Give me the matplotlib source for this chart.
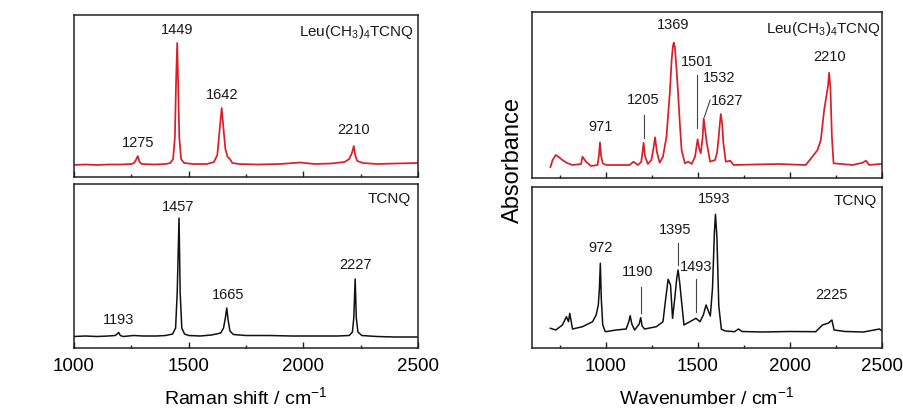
import matplotlib
matplotlib.use('Agg')
import matplotlib.pyplot as plt
from matplotlib.ticker import MultipleLocator

plt.rcParams['font.family'] = ['Liberation Sans', 'DejaVu Sans']
plt.rcParams['mathtext.fontset'] = 'custom'
plt.rcParams['mathtext.rm'] = 'Liberation Sans'
plt.rcParams['mathtext.it'] = 'Liberation Sans:italic'
plt.rcParams['mathtext.default'] = 'regular'

# ---------------- data ----------------
raman_leu_x = [1000, 1050, 1100, 1150, 1200, 1250, 1262, 1270, 1278, 1286, 1295, 1350, 1400, 1420,
               1432, 1440, 1445, 1450, 1454, 1459, 1467, 1480, 1520, 1580, 1610, 1625, 1634, 1644,
               1652, 1660, 1670, 1680, 1690, 1720, 1800, 1900, 1985, 2050, 2120, 2180, 2200, 2212,
               2220, 2226, 2235, 2260, 2320, 2400, 2500]
raman_leu_y = [12, 12.5, 12, 12.5, 12.5, 13, 14, 17, 21, 15, 13, 12.5, 13, 14,
               18, 40, 95, 134, 95, 40, 18, 14, 13, 13, 15, 22, 45, 69,
               48, 28, 20, 18, 14, 13, 12.5, 13, 14.5, 13, 13.5, 15, 18, 24,
               31, 22, 16, 14, 13, 13.5, 14]

raman_tcnq_x = [1000, 1050, 1100, 1150, 1180, 1188, 1195, 1202, 1215, 1260, 1300, 1360, 1400, 1430,
                1443, 1450, 1458, 1463, 1470, 1482, 1500, 1550, 1600, 1640, 1652, 1660, 1666, 1672,
                1680, 1695, 1750, 1850, 1950, 2050, 2150, 2200, 2214, 2220, 2226, 2231, 2238, 2255,
                2320, 2400, 2460, 2500]
raman_tcnq_y = [11.5, 12, 11.5, 12, 12.5, 14, 15.5, 12.5, 11.5, 12.5, 12, 12, 12.5, 14,
                20, 55, 130, 55, 20, 14, 12.5, 12, 13, 15, 20, 30, 40, 28,
                17, 13.5, 12.5, 12.5, 12, 12, 12, 12.5, 16, 30, 69, 30, 16, 12.5,
                11.5, 11, 11, 11]

ir_leu_x = [700, 712, 729, 745, 765, 790, 820, 866, 874, 893, 920, 956, 963, 969, 975, 984, 1002,
            1130, 1151, 1175, 1193, 1200, 1206, 1213, 1229, 1248, 1258, 1268, 1278, 1293, 1311,
            1330, 1348, 1358, 1365, 1370, 1376, 1384, 1393, 1404, 1412, 1430, 1448, 1467,
            1485, 1492, 1499, 1507, 1516, 1526, 1532, 1540, 1549, 1567, 1594, 1605, 1612, 1620,
            1625, 1632, 1639, 1652, 1676, 1694, 1800, 1940, 2086, 2122, 2150, 2168, 2186, 2199,
            2207, 2213, 2220, 2228, 2237, 2341, 2395, 2413, 2431, 2486, 2500]
ir_leu_y = [11, 18, 23, 21, 18, 15, 13, 14, 21.3, 16.3, 12, 13, 22, 35.7, 22, 14.7, 13,
            13, 16.3, 13, 16, 26, 35.3, 22, 14, 18, 28, 40.7, 26, 15.3, 21.3,
            41.3, 84.7, 118, 132, 135.3, 130, 110, 84.7, 50, 28, 14.7, 16.3, 14,
            21.3, 30, 38.7, 30, 24.7, 40, 59.7, 48, 34.7, 16.3, 18, 26, 38, 55,
            64, 55, 34.7, 16.3, 17.3, 13, 13.5, 14, 13, 21.3, 28, 38, 68, 83,
            92, 105.3, 90, 41.3, 14.7, 13, 15.3, 17.3, 13, 14, 14]

ir_tcnq_x = [700, 729, 765, 787, 798, 805, 820, 874, 929, 948, 960, 966, 971, 976, 984, 998, 1057,
             1111, 1125, 1133, 1142, 1157, 1182, 1190, 1198, 1211, 1275, 1311, 1326, 1339, 1352,
             1363, 1375, 1386, 1393, 1402, 1412, 1425, 1457, 1490, 1512, 1530, 1545, 1568, 1580,
             1590, 1596, 1604, 1614, 1628, 1650, 1700, 1721, 1740, 1850, 2000, 2140, 2177, 2210,
             2228, 2240, 2300, 2400, 2486, 2500]
ir_tcnq_y = [19.7, 18, 23, 31.3, 26.3, 34.6, 19, 21.3, 26.3, 33, 43, 60, 84.7, 50, 23, 16.3, 18,
             19, 26, 32.3, 24, 18, 24, 30.3, 22, 19, 21.3, 26.3, 49.7, 68.7, 63,
             29.7, 49.7, 70, 78, 65, 46.3, 23, 26.3, 29.7, 26.3, 33, 43, 32, 60,
             115, 133.7, 110, 42, 18.7, 17, 16.3, 19, 16.5, 16, 16.5, 16.3, 23, 25,
             28, 18, 16.5, 16, 19, 17]

raman_leu_labels = ['1449', '1642', '1275', '2210']
raman_leu_lx = [1449, 1644, 1278, 2221]
raman_leu_ly = [147, 82, 34, 47]

raman_tcnq_labels = ['1457', '1665', '1193', '2227']
raman_tcnq_lx = [1455, 1673, 1193, 2228]
raman_tcnq_ly = [141, 53, 28, 83]

ir_leu_labels = ['971', '1205', '1369', '1501', '1532', '1627', '2210']
ir_leu_lx = [971, 1202, 1366, 1496, 1618, 1659, 2214]
ir_leu_ly = [51, 78, 153, 116, 99.5, 77, 121]

ir_tcnq_labels = ['972', '1190', '1395', '1493', '1593', '2225']
ir_tcnq_lx = [971, 1171, 1379, 1493, 1591, 2228]
ir_tcnq_ly = [100, 76, 118, 81, 149, 53]

# leader lines: (x0, y0, x1, y1)
ir_leu_leaders = [(1206, 40, 1206, 63), (1498, 50, 1498, 103), (1536, 61, 1567, 78)]
ir_tcnq_leaders = [(1190, 35, 1190, 61), (1392, 83, 1392, 105), (1490, 36, 1490, 69)]

sample_top = 'Leu(CH$_3$)$_4$TCNQ'
sample_bottom = 'TCNQ'

# ---------------- figure ----------------
W, H = 904, 412
fig = plt.figure(figsize=(W / 100, H / 100), dpi=100)


def add_ax(x0, y0, x1, y1):
    return fig.add_axes([x0 / W, 1 - y1 / H, (x1 - x0) / W, (y1 - y0) / H])


ax_rl = add_ax(74, 15, 418, 177)
ax_rt = add_ax(74, 184, 418, 348)
ax_il = add_ax(532, 12, 882, 178)
ax_it = add_ax(532, 187, 882, 348)

red = '#d81e28'
black = '#111111'


def style(ax, xlim, ylim, show_labels):
    ax.set_xlim(*xlim)
    ax.set_ylim(*ylim)
    ax.set_yticks([])
    ax.xaxis.set_major_locator(MultipleLocator(500))
    ax.xaxis.set_minor_locator(MultipleLocator(250))
    ax.tick_params(axis='x', which='both', direction='in', top=False, bottom=True,
                   width=1.0, colors='#222222', labelsize=13.5, pad=7.5)
    ax.tick_params(axis='x', which='major', length=4)
    ax.tick_params(axis='x', which='minor', length=2.3)
    if not show_labels:
        ax.tick_params(axis='x', labelbottom=False)
    else:
        for lab in ax.get_xticklabels():
            lab.set_color('black')
    for s in ax.spines.values():
        s.set_linewidth(1.1)
        s.set_color('#222222')


style(ax_rl, (1000, 2500), (0, 162), False)
style(ax_rt, (1000, 2500), (0, 164), True)
style(ax_il, (600, 2500), (0, 166), False)
style(ax_it, (600, 2500), (0, 161), True)

ax_rl.plot(raman_leu_x, raman_leu_y, color=red, lw=1.25)
ax_rt.plot(raman_tcnq_x, raman_tcnq_y, color=black, lw=1.1)
ax_il.plot(ir_leu_x, ir_leu_y, color=red, lw=1.25)
ax_it.plot(ir_tcnq_x, ir_tcnq_y, color=black, lw=1.1)

lab_fs = 10.5
for ax, labs, lx, ly in [(ax_rl, raman_leu_labels, raman_leu_lx, raman_leu_ly),
                         (ax_rt, raman_tcnq_labels, raman_tcnq_lx, raman_tcnq_ly),
                         (ax_il, ir_leu_labels, ir_leu_lx, ir_leu_ly),
                         (ax_it, ir_tcnq_labels, ir_tcnq_lx, ir_tcnq_ly)]:
    for t, x, y in zip(labs, lx, ly):
        ax.text(x, y, t, ha='center', va='center', fontsize=lab_fs, color='#1a1a1a')

for ax, leaders in [(ax_il, ir_leu_leaders), (ax_it, ir_tcnq_leaders)]:
    for x0, y0, x1, y1 in leaders:
        ax.plot([x0, x1], [y0, y1], color='#444444', lw=0.8)

for ax, name, dx in [(ax_rl, sample_top, 0.988), (ax_rt, sample_bottom, 0.98),
                     (ax_il, sample_top, 0.996), (ax_it, sample_bottom, 0.985)]:
    ax.text(dx, 0.895 if ax in (ax_rl, ax_il) else 0.91, name, transform=ax.transAxes,
            ha='right', va='center', fontsize=11, color='#1a1a1a')

ax_rt.set_xlabel('Raman shift / cm$^{-1}$', fontsize=14, labelpad=8)
ax_it.set_xlabel('Wavenumber / cm$^{-1}$', fontsize=14, labelpad=8)

fig.text(513 / W, 1 - 160 / H, 'Absorbance', rotation=90, ha='center', va='center', fontsize=17)

fig.savefig('out.png', dpi=100, facecolor='white')
